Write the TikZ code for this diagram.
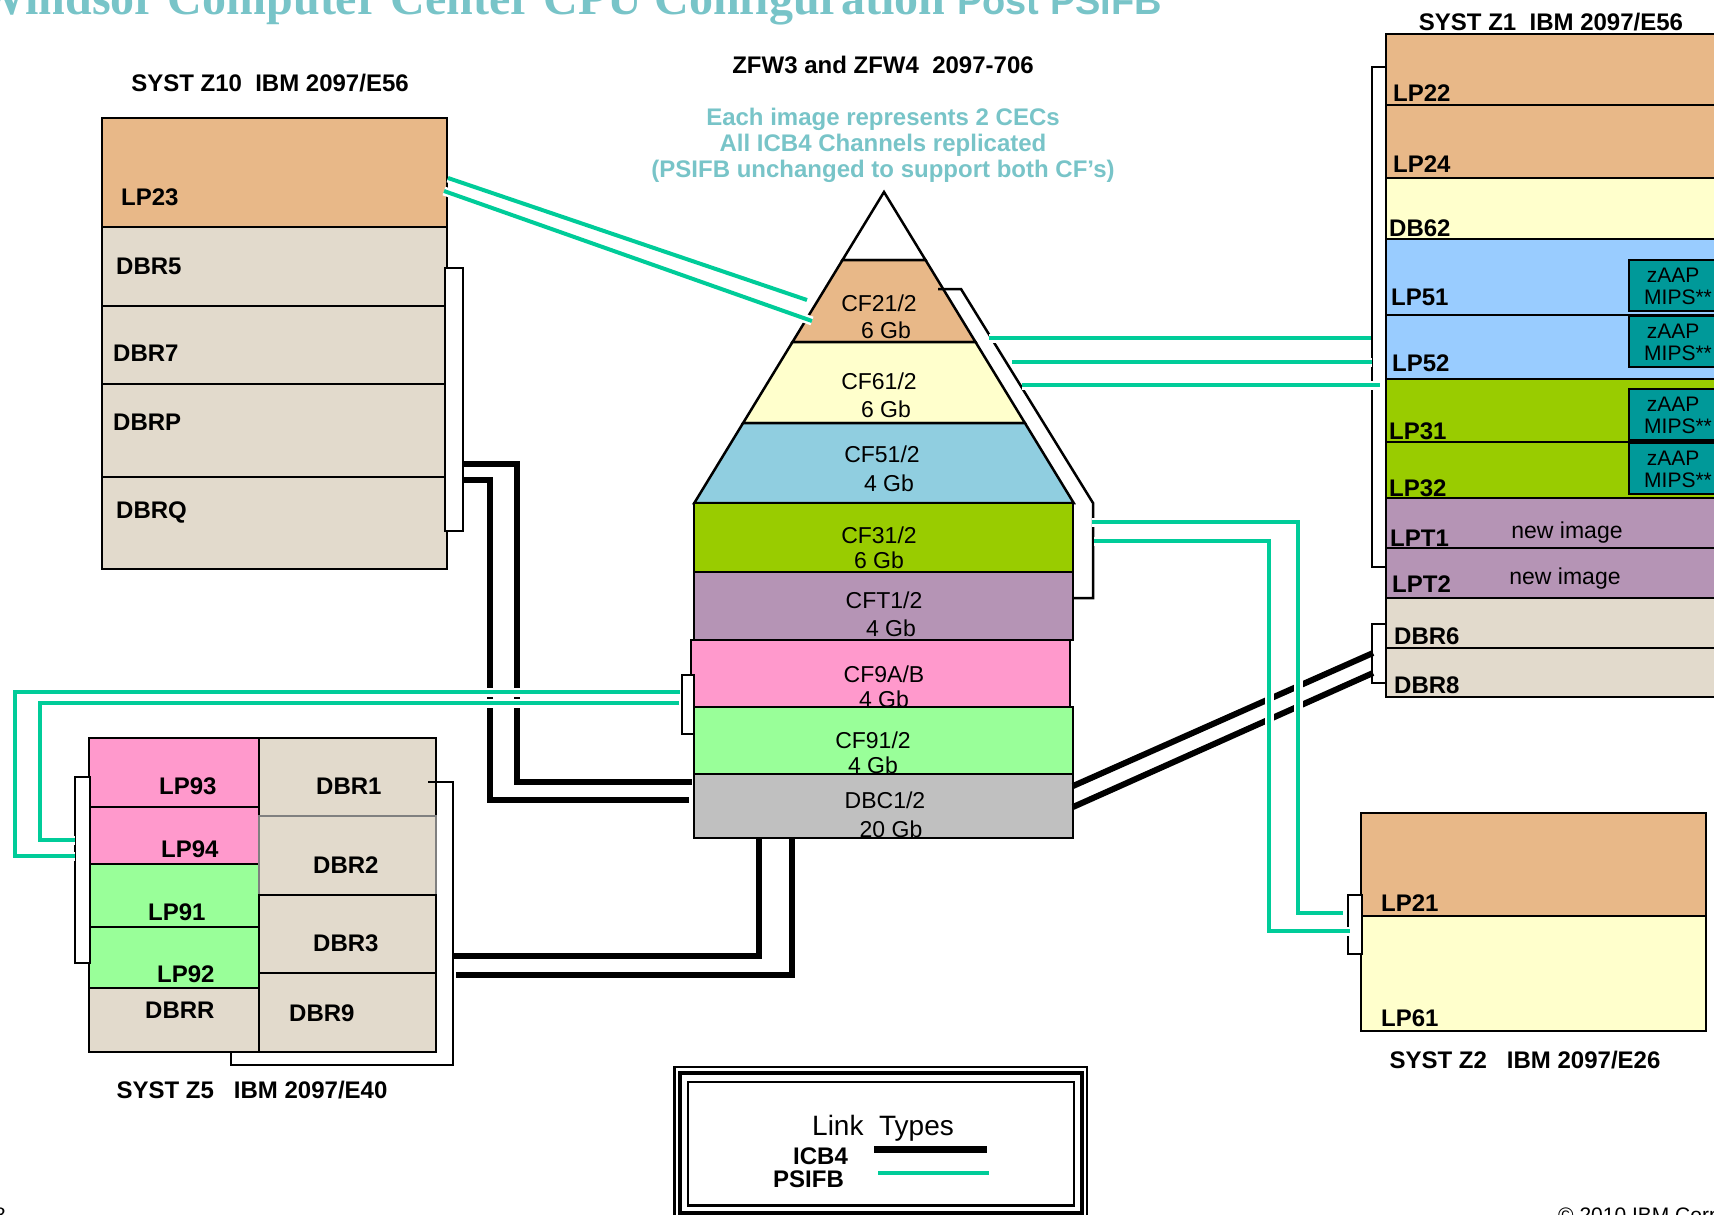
\documentclass[tikz,border=0pt]{standalone}
\usepackage{fontspec}
\setmainfont{Liberation Sans}
\newfontfamily\timesfont{Liberation Serif}
\usepackage{tikz}
\usetikzlibrary{positioning}

\definecolor{lptan}{RGB}{232,184,136}
\definecolor{lpcream}{RGB}{255,255,204}
\definecolor{lpblue}{RGB}{153,204,255}
\definecolor{cfblue}{RGB}{144,206,224}
\definecolor{lpgreen}{RGB}{153,204,0}
\definecolor{lpmauve}{RGB}{181,148,181}
\definecolor{lppink}{RGB}{255,153,204}
\definecolor{lpmint}{RGB}{153,255,153}
\definecolor{dbgrey}{RGB}{192,192,192}
\definecolor{dbsand}{RGB}{226,218,204}
\definecolor{zaapteal}{RGB}{0,153,153}
\definecolor{psigreen}{RGB}{0,204,153}
\definecolor{ttlteal}{RGB}{120,196,200}

\begin{document}
\begin{tikzpicture}[x=1pt, y=-1pt,
    box/.style={draw, line width=2.5pt},
    brk/.style={draw, line width=2.5pt},
    lbl/.style={font={\fontsize{24}{26}\selectfont\bfseries}, anchor=base west, inner sep=0pt},
    ttl/.style={font={\fontsize{24}{26}\selectfont\bfseries}, anchor=base, inner sep=0pt},
    cftxt/.style={font={\fontsize{23}{25}\selectfont}, anchor=base, inner sep=0pt},
    zp/.style={font={\fontsize{21}{23}\selectfont}, anchor=base, inner sep=0pt},
    icb/.style={line width=6pt},
    psifb/.style={draw=psigreen, line width=4pt, preaction={draw=white, line width=9pt}}]
    \useasboundingbox (0,0) rectangle (1714,1215);

    % titles
    \node[anchor=base west, inner sep=0pt, text=ttlteal, font={\timesfont\bfseries\fontsize{48}{50}\selectfont}] (title) at (-22,15)
        {Windsor Computer Center CPU Configuration {\fontsize{38}{40}\selectfont\rmfamily\bfseries Post PSIFB}};
    \node[ttl] (z10t) at (270,92) {SYST Z10\ \ IBM 2097/E56};
    \node[ttl] (zfwt) at (883,74) {ZFW3 and ZFW4\ \ 2097-706};
    \node[ttl, text=ttlteal] (note1) at (883,125) {Each image represents 2 CECs};
    \node[ttl, text=ttlteal] (note2) at (883,151) {All ICB4 Channels replicated};
    \node[ttl, text=ttlteal] (note3) at (883,177) {(PSIFB unchanged to support both CF’s)};
    \node[ttl] (z1t) at (1551,31) {SYST Z1\ \ IBM 2097/E56};
    \node[ttl] (z2t) at (1525,1068) {SYST Z2\ \ \ IBM 2097/E26};
    \node[ttl] (z5t) at (252,1098) {SYST Z5\ \ \ IBM 2097/E40};

    % SYST Z10
    \filldraw[box, fill=lptan] (102,118) rectangle (447,227);
    \filldraw[box, fill=dbsand] (102,227) rectangle (447,306);
    \filldraw[box, fill=dbsand] (102,306) rectangle (447,384);
    \filldraw[box, fill=dbsand] (102,384) rectangle (447,477);
    \filldraw[box, fill=dbsand] (102,477) rectangle (447,569);
    \node[lbl] (lp23) at (121,205) {LP23};
    \node[lbl] (dbr5) at (116,274) {DBR5};
    \node[lbl] (dbr7) at (113,361) {DBR7};
    \node[lbl] (dbrp) at (113,430) {DBRP};
    \node[lbl] (dbrq) at (116,518) {DBRQ};
    \filldraw[brk, fill=white] (445,268) rectangle (463,531);

    % SYST Z1
    \filldraw[box, fill=lptan] (1386,34) rectangle (1730,105);
    \filldraw[box, fill=lptan] (1386,105) rectangle (1730,178);
    \filldraw[box, fill=lpcream] (1386,178) rectangle (1730,239);
    \filldraw[box, fill=lpblue] (1386,239) rectangle (1730,315);
    \filldraw[box, fill=lpblue] (1386,315) rectangle (1730,379);
    \filldraw[box, fill=lpgreen] (1386,379) rectangle (1730,442);
    \filldraw[box, fill=lpgreen] (1386,442) rectangle (1730,498);
    \filldraw[box, fill=lpmauve] (1386,498) rectangle (1730,548);
    \filldraw[box, fill=lpmauve] (1386,548) rectangle (1730,598);
    \filldraw[box, fill=dbsand] (1386,598) rectangle (1730,648);
    \filldraw[box, fill=dbsand] (1386,648) rectangle (1730,697);
    \foreach \y [count=\i] in {260,316,389,443} {
        \filldraw[box, fill=zaapteal] (1629,\y) rectangle (1730,\y+51);
        \node[zp] (zaap\i) at (1673,\y+22) {zAAP};
        \node[zp, anchor=base west] (mips\i) at (1644,\y+44) {MIPS**};
    }
    \node[lbl] (lp22) at (1393,102) {LP22};
    \node[lbl] (lp24) at (1393,172) {LP24};
    \node[lbl] (db62) at (1389,236) {DB62};
    \node[lbl] (lp51) at (1391,305) {LP51};
    \node[lbl] (lp52) at (1392,371) {LP52};
    \node[lbl] (lp31) at (1389,439) {LP31};
    \node[lbl] (lp32) at (1389,496) {LP32};
    \node[lbl] (lpt1) at (1390,546) {LPT1};
    \node[lbl] (lpt2) at (1392,592) {LPT2};
    \node[lbl] (dbr6) at (1394,644) {DBR6};
    \node[lbl] (dbr8) at (1394,693) {DBR8};
    \node[cftxt] (new1) at (1567,538) {new image};
    \node[cftxt] (new2) at (1565,584) {new image};
    \draw[brk] (1386,67) -- (1372,67) -- (1372,567) -- (1386,567);
    \draw[brk] (1386,624) -- (1372,624) -- (1372,683) -- (1386,683);

    % SYST Z2
    \filldraw[box, fill=lptan] (1361,813) rectangle (1706,916);
    \filldraw[box, fill=lpcream] (1361,916) rectangle (1706,1031);
    \node[lbl] (lp21) at (1381,911) {LP21};
    \node[lbl] (lp61) at (1381,1026) {LP61};
    \filldraw[brk, fill=white] (1348,895) rectangle (1362,954);

    % SYST Z5
    \filldraw[box, fill=lppink] (89,738) rectangle (259,807);
    \filldraw[box, fill=lppink] (89,807) rectangle (259,864);
    \filldraw[box, fill=lpmint] (89,864) rectangle (259,927);
    \filldraw[box, fill=lpmint] (89,927) rectangle (259,988);
    \filldraw[box, fill=dbsand] (89,988) rectangle (259,1052);
    \filldraw[box, fill=dbsand] (259,738) rectangle (436,816);
    \filldraw[box, fill=dbsand, draw=gray] (259,816) rectangle (436,895);
    \filldraw[box, fill=dbsand] (259,895) rectangle (436,973);
    \filldraw[box, fill=dbsand] (259,973) rectangle (436,1052);
    \node[lbl] (lp93) at (159,794) {LP93};
    \node[lbl] (lp94) at (161,857) {LP94};
    \node[lbl] (lp91) at (148,920) {LP91};
    \node[lbl] (lp92) at (157,982) {LP92};
    \node[lbl] (dbrr) at (145,1018) {DBRR};
    \node[lbl] (dbr1) at (316,794) {DBR1};
    \node[lbl] (dbr2) at (313,873) {DBR2};
    \node[lbl] (dbr3) at (313,951) {DBR3};
    \node[lbl] (dbr9) at (289,1021) {DBR9};
    \filldraw[brk, fill=white] (75,777) rectangle (90,963);
    \draw[brk] (428,782) -- (453,782) -- (453,1065) -- (231,1065) -- (231,1052);

    % coupling facility pyramid
    \filldraw[box, fill=white] (884,192) -- (925.5,260) -- (842.5,260) -- cycle;
    \filldraw[box, fill=lptan] (842.5,260) -- (925.5,260) -- (975.5,342) -- (792.5,342) -- cycle;
    \node[cftxt] (cf21) at (879,311) {CF21/2};
    \node[cftxt] (cf21g) at (886,338) {6 Gb};
    \filldraw[box, fill=lpcream] (792.5,342) -- (975.5,342) -- (1024.9,423) -- (743.1,423) -- cycle;
    \node[cftxt] (cf61) at (879,389) {CF61/2};
    \node[cftxt] (cf61g) at (886,417) {6 Gb};
    \filldraw[box, fill=cfblue] (743.1,423) -- (1024.9,423) -- (1073.7,503) -- (694.3,503) -- cycle;
    \node[cftxt] (cf51) at (882,462) {CF51/2};
    \node[cftxt] (cf51g) at (889,491) {4 Gb};
    \filldraw[box, fill=lpgreen] (694,503) rectangle (1073,572);
    \node[cftxt] (cf31) at (879,543) {CF31/2};
    \node[cftxt] (cf31g) at (879,568) {6 Gb};
    \filldraw[box, fill=lpmauve] (694,572) rectangle (1073,640);
    \node[cftxt] (cft1) at (884,608) {CFT1/2};
    \node[cftxt] (cft1g) at (891,636) {4 Gb};
    \filldraw[box, fill=lppink] (691,640) rectangle (1070,707);
    \node[cftxt] (cf9a) at (884,682) {CF9A/B};
    \node[cftxt] (cf9ag) at (884,707) {4 Gb};
    \filldraw[box, fill=lpmint] (694,707) rectangle (1073,774);
    \node[cftxt] (cf91) at (873,748) {CF91/2};
    \node[cftxt] (cf91g) at (873,773) {4 Gb};
    \filldraw[box, fill=dbgrey] (694,774) rectangle (1073,838);
    \node[cftxt] (dbc1) at (885,808) {DBC1/2};
    \node[cftxt] (dbc1g) at (891,837) {20 Gb};
    \draw[brk] (938,289) -- (961,289) -- (1093,503) -- (1093,598) -- (1073,598);
    \filldraw[brk, fill=white] (682,675) rectangle (694,734);

    % link end points
    \coordinate (q10a) at (464,464);
    \coordinate (q10b) at (464,480);
    \coordinate (dbca) at (692,782);
    \coordinate (dbcb) at (689,800);
    \coordinate (q5a) at (453,956);
    \coordinate (q5b) at (456,975);
    \coordinate (dbcc) at (759,838);
    \coordinate (dbcd) at (792,838);
    \coordinate (dbce) at (1073,786);
    \coordinate (dbcf) at (1073,807);
    \coordinate (q6a) at (1373,653);
    \coordinate (q6b) at (1373,673);
    \coordinate (p23a) at (448,178);
    \coordinate (p23b) at (444,191);
    \coordinate (cf21a) at (807,300);
    \coordinate (cf21b) at (812,321);
    \coordinate (cfra) at (989,338);
    \coordinate (cfrb) at (1012,362);
    \coordinate (cfrc) at (1022,385);
    \coordinate (p51a) at (1371,338);
    \coordinate (p51b) at (1372,362);
    \coordinate (p51c) at (1380,385);
    \coordinate (cfrd) at (1092,522);
    \coordinate (cfre) at (1094,541);
    \coordinate (p21a) at (1343,913);
    \coordinate (p21b) at (1350,931);
    \coordinate (cf9l) at (680,692);
    \coordinate (cf9m) at (679,703);
    \coordinate (p9a) at (75,856);
    \coordinate (p9b) at (75,840);

    % ICB4 links
    \draw[icb] (q10a) -- (517,464) -- (517,782) -- (dbca);
    \draw[icb] (q10b) -- (490,480) -- (490,800) -- (dbcb);
    \draw[icb] (q5a) -- (759,956) -- (dbcc);
    \draw[icb] (q5b) -- (792,975) -- (dbcd);
    \draw[icb] (dbce) -- (q6a);
    \draw[icb] (dbcf) -- (q6b);

    % PSIFB links
    \draw[psifb] (p23a) -- (cf21a);
    \draw[psifb] (p23b) -- (cf21b);
    \draw[psifb] (cfra) -- (p51a);
    \draw[psifb] (cfrb) -- (p51b);
    \draw[psifb] (cfrc) -- (p51c);
    \draw[psifb] (cfrd) -- (1298,522) -- (1298,913) -- (p21a);
    \draw[psifb] (cfre) -- (1269,541) -- (1269,931) -- (p21b);
    \draw[psifb] (cf9l) -- (15,692) -- (15,856) -- (p9a);
    \draw[psifb] (cf9m) -- (40,703) -- (40,840) -- (p9b);

    % legend
    \draw[line width=2.5pt] (674.5,1067) rectangle (1087,1230);
    \draw[line width=4pt] (680,1072.5) rectangle (1081.5,1213);
    \draw[line width=2.5pt] (688,1082) rectangle (1074,1205.5);
    \node[anchor=base west, inner sep=0pt, font={\fontsize{28}{30}\selectfont}] (legt) at (812,1135) {Link\ \ Types};
    \node[lbl] (icbl) at (793,1164) {ICB4};
    \node[lbl] (psil) at (773,1187) {PSIFB};
    \coordinate (icba) at (874,1149);
    \coordinate (icbb) at (987,1149);
    \coordinate (psia) at (878,1173);
    \coordinate (psib) at (989,1173);
    \draw[icb, line width=7pt] (icba) -- (icbb);
    \draw[psifb] (psia) -- (psib);

    % footer
    \node[anchor=base west, inner sep=0pt, font={\fontsize{21}{23}\selectfont}] (copy) at (1558,1222) {© 2010 IBM Corporation};
    \node[anchor=base west, inner sep=0pt, font={\fontsize{21}{23}\selectfont}] (pgno) at (-6,1222) {8};
\end{tikzpicture}
\end{document}
